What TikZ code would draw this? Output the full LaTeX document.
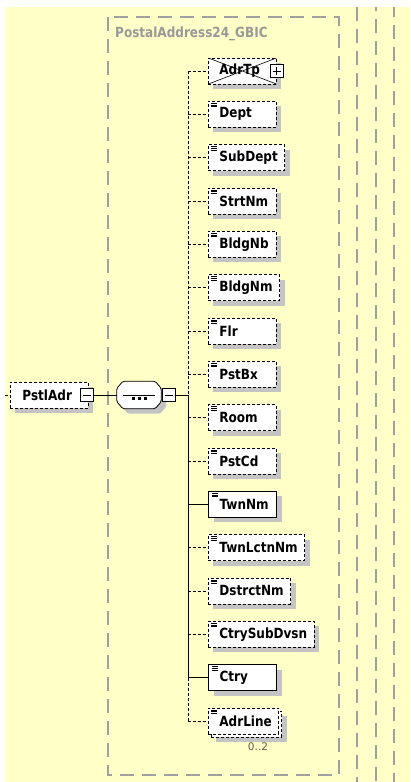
\documentclass[tikz,border=0pt]{standalone}
\usepackage{fontspec}
\setmainfont{DejaVu Sans}
\newfontfamily\elfam[FakeStretch=0.86]{DejaVu Sans}
\usetikzlibrary{shadows}

\definecolor{bgyellow}{HTML}{FFFFC8}
\definecolor{framegray}{HTML}{A0A0A0}
\definecolor{titlegray}{HTML}{999999}
\definecolor{shadowgray}{HTML}{C4C4C4}
\definecolor{occgray}{HTML}{5E5E48}

% element label, left aligned, with a minimum width
\newlength\elw
\newcommand\elname[1]{\settowidth\elw{#1}\addtolength\elw{10pt}%
  \ifdim\elw<60pt\setlength\elw{60pt}\fi\makebox[\elw][l]{\hspace*{7pt}#1}}

\tikzset{
  elfont/.style={font=\elfam\fontsize{14}{16}\selectfont\bfseries},
  dots/.style={dash pattern=on 3pt off 2pt},
  shad/.style={drop shadow={shadow xshift=5pt, shadow yshift=-5pt, fill=shadowgray, opacity=1}},
  icon/.style={path picture={
      \foreach \k in {0,1,2}
        \draw[solid, line width=.6pt] ([xshift=3pt, yshift={-2pt-1.7pt*\k}]path picture bounding box.north west) -- ++(6pt,0);
  }},
  elbase/.style={rectangle, elfont, draw, fill=white, anchor=west,
    minimum height=26pt, inner xsep=4pt, inner ysep=0pt, line width=.8pt},
  optel/.style={elbase, shad, dots, icon},
  reqel/.style={elbase, shad, icon, line width=1.1pt},
  xel/.style={elbase, shad, dots, path picture={
      \draw[solid, line width=.6pt] (path picture bounding box.north west) -- (path picture bounding box.south east)
        (path picture bounding box.south west) -- (path picture bounding box.north east);
  }},
  multiel/.style={elbase, dots, icon,
    drop shadow={shadow xshift=8pt, shadow yshift=-8pt, fill=shadowgray, opacity=1},
    copy shadow={shadow xshift=3pt, shadow yshift=-3pt, draw=black, fill=white, dots}},
  toggle/.style={rectangle, draw, fill=white, minimum size=13pt, inner sep=0pt, line width=.8pt},
  minusbox/.style={toggle, path picture={
      \draw ([xshift=-4pt]path picture bounding box.center) -- ([xshift=4pt]path picture bounding box.center);
  }},
  plusbox/.style={toggle, path picture={
      \draw ([xshift=-4pt]path picture bounding box.center) -- ([xshift=4pt]path picture bounding box.center)
        ([yshift=-4pt]path picture bounding box.center) -- ([yshift=4pt]path picture bounding box.center);
  }},
  seqbox/.style={rectangle, minimum width=44pt, minimum height=27pt, inner sep=0pt},
  gframe/.style={framegray, line width=1.3pt, dash pattern=on 14pt off 8pt}
}

\begin{document}
\begin{tikzpicture}[x=1pt, y=-1pt]
    % Canvas
    \useasboundingbox (0,0) rectangle (410,782);
    \fill[bgyellow] (5,7) rectangle (410,782);
    % Group frame
    \draw[gframe] (108,17) rectangle (339,775);
    \foreach \gx/\ph in {357/0, 376/10, 394/4} {
        \draw[gframe, dash phase=\ph pt] (\gx,7) -- (\gx,782);
    }
    \node[anchor=west, elfont, text=titlegray, inner sep=0pt]
        (grp) at (115,34) {PostalAddress24\_GBIC};
    % Parent element
    \node[elbase, shad, dots] (PstlAdr) at (10,395) {\makebox[70pt][l]{\hspace*{8pt}PstlAdr}};
    \node[minusbox] (pm) at ([xshift=-1.5pt]PstlAdr.east) {};
    \coordinate (in) at (5,395);
    \draw[dots] (in) -- (PstlAdr.west);
    % Sequence
    \node[seqbox] (seq) at (139,395) {};
    \draw[fill=white, shad, line width=.8pt, rounded corners=1.5pt]
        ([xshift=6pt]seq.north west) -- ([xshift=-6pt]seq.north east) -- ([yshift=-7pt]seq.north east)
        -- ([yshift=7pt]seq.south east) -- ([xshift=-6pt]seq.south east) -- ([xshift=6pt]seq.south west)
        -- ([yshift=7pt]seq.south west) -- ([yshift=-7pt]seq.north west) -- cycle;
    \draw[line width=.8pt] ([xshift=6pt]seq.west) -- ([xshift=-6pt]seq.east);
    \foreach \d in {-6,0,6} {
        \fill ([xshift={\d pt-1.5pt}, yshift=-1.5pt]seq.center) rectangle ++(3pt,-3pt);
    }
    \node[minusbox] (sm) at ([xshift=7.5pt]seq.east) {};
    \draw[line width=.8pt] (pm) -- (seq);
    \coordinate (tree) at (188,395);
    \draw[line width=.8pt] (sm) -- (tree);
    % Children
    \foreach \i/\name/\kind/\conn in {
        1/AdrTp/xel/dots, 2/Dept/optel/dots, 3/SubDept/optel/dots, 4/StrtNm/optel/dots,
        5/BldgNb/optel/dots, 6/BldgNm/optel/dots, 7/Flr/optel/dots, 8/PstBx/optel/dots,
        9/Room/optel/dots, 10/PstCd/optel/dots, 11/TwnNm/reqel/solid, 12/TwnLctnNm/optel/dots,
        13/DstrctNm/optel/dots, 14/CtrySubDvsn/optel/dots, 15/Ctry/reqel/solid, 16/AdrLine/multiel/dots} {
        \node[\kind] (\name) at (208,{71+43.33*(\i-1)}) {\elname{\name}};
        \draw[\conn, line width=.8pt] (\name.west -| tree) -- (\name.west);
    }
    \node[plusbox] (tp) at (AdrTp.east) {};
    \node[font=\fontsize{10.5}{12}\selectfont, text=occgray] (occ) at (258,747) {0..2};
    % Tree line
    \draw[dots, line width=.8pt] (AdrTp.west -| tree) -- (tree);
    \draw[line width=.8pt] (tree) -- (Ctry.west -| tree);
    \draw[dots, line width=.8pt] (Ctry.west -| tree) -- (AdrLine.west -| tree);
\end{tikzpicture}
\end{document}
